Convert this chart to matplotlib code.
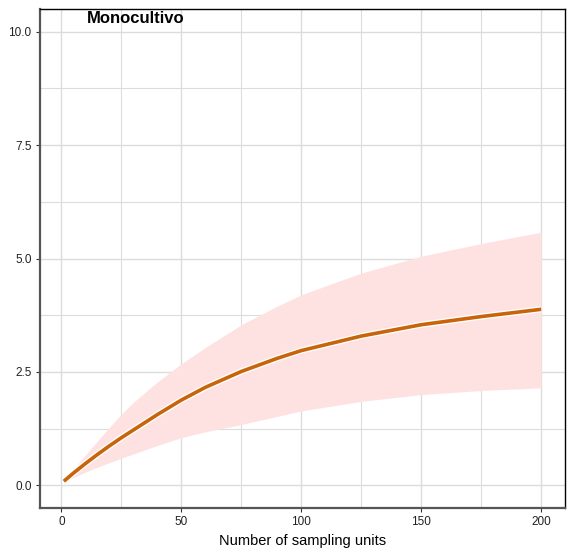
import matplotlib
matplotlib.use("Agg")
import matplotlib.pyplot as plt
import matplotlib.patheffects as pe
from matplotlib.ticker import MultipleLocator

plt.rcParams['font.family'] = ['Liberation Sans', 'DejaVu Sans']

title = "Monocultivo"
x_label = "Number of sampling units"
sampling_units = [1, 5, 10, 15, 20, 25, 30, 40, 50, 60, 75, 90, 100, 125, 150, 175, 200]
richness = [0.09, 0.27, 0.48, 0.68, 0.87, 1.05, 1.22, 1.56, 1.88, 2.16, 2.51, 2.80, 2.97, 3.29, 3.54, 3.72, 3.88]
upper_ci = [0.09, 0.35, 0.67, 0.98, 1.28, 1.57, 1.83, 2.28, 2.68, 3.04, 3.54, 3.95, 4.20, 4.68, 5.05, 5.33, 5.58]
lower_ci = [0.07, 0.17, 0.29, 0.40, 0.50, 0.60, 0.69, 0.88, 1.05, 1.18, 1.34, 1.52, 1.64, 1.85, 2.00, 2.09, 2.15]
x_ticks = [0, 50, 100, 150, 200]
y_ticks = [0.0, 2.5, 5.0, 7.5, 10.0]

fig = plt.figure(figsize=(5.72, 5.52), dpi=100)
ax = fig.add_axes([40/572, 44/552, 525/572, 499/552])

ax.fill_between(sampling_units, lower_ci, upper_ci, color='#fee2e1', linewidth=0, zorder=2)
ax.plot(sampling_units, richness, color='#c8640a', linewidth=2.6, zorder=3,
        solid_capstyle='butt', solid_joinstyle='round',
        path_effects=[pe.Stroke(linewidth=4.5, foreground='white'), pe.Normal()])

ax.set_xlim(-8.95, 209.95)
ax.set_ylim(-0.5, 10.5)
ax.set_xticks(x_ticks)
ax.set_xticklabels([str(v) for v in x_ticks])
ax.set_yticks(y_ticks)
ax.set_yticklabels([f"{v:.1f}" for v in y_ticks])
ax.xaxis.set_minor_locator(MultipleLocator(25))
ax.yaxis.set_minor_locator(MultipleLocator(1.25))
ax.grid(which='major', color='#dcdcdc', linewidth=1.0, zorder=0)
ax.grid(which='minor', color='#dcdcdc', linewidth=0.8, zorder=0)
ax.set_axisbelow(True)
ax.tick_params(which='major', length=3, width=0.8, color='#333333', labelsize=8.5, labelcolor='#222222', pad=3)
ax.tick_params(which='minor', length=0)

for s in ['top', 'right']:
    ax.spines[s].set_color('black')
    ax.spines[s].set_linewidth(1.0)
for s in ['left', 'bottom']:
    ax.spines[s].set_color('#555555')
    ax.spines[s].set_linewidth(1.6)

ax.set_xlabel(x_label, fontsize=10.5, labelpad=4)
ax.text(31, 10.3, title, fontsize=12, fontweight='bold', ha='center', va='center')

fig.savefig("out.png", dpi=100)
